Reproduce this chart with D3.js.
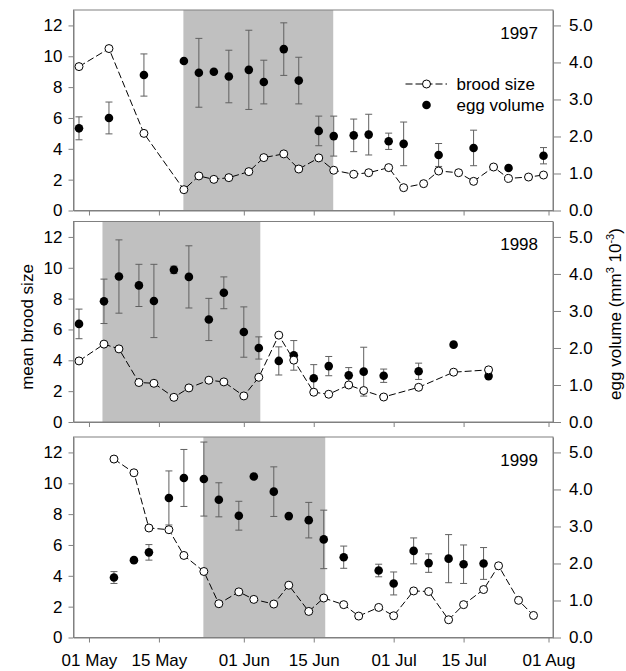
<!DOCTYPE html>
<html>
<head>
<meta charset="utf-8">
<script src="https://cdn.jsdelivr.net/npm/d3@7"></script>
<style>
  body { margin: 0; background: #fff; }
  svg text { font-family: "Liberation Sans", Arial, sans-serif; fill: #000; }
</style>
</head>
<body>
<div id="chart"></div>
<script>
// brood size and egg volume over the season, 1997-1999
// days are counted from 01 May

var years = [1997, 1998, 1999];

var tickDays = [0, 14, 31, 45, 61, 75, 92];
var tickLabels = ["01 May", "15 May", "01 Jun", "15 Jun", "01 Jul", "15 Jul", "01 Aug"];

var broodDays97 = [-2, 4, 11, 19, 22, 25, 28, 32, 35, 39, 42, 46, 49, 53, 56, 60, 63, 67, 70, 74, 77, 81, 84, 88, 91];
var brood97 = [9.33, 10.5, 5.0, 1.35, 2.24, 2.02, 2.13, 2.52, 3.43, 3.67, 2.69, 3.41, 2.61, 2.35, 2.45, 2.78, 1.48, 1.74, 2.56, 2.45, 1.89, 2.82, 2.08, 2.17, 2.30];
var eggDays97 = [-2, 4, 11, 19, 22, 25, 28, 32, 35, 39, 42, 46, 49, 53, 56, 60, 63, 70, 77, 84, 91];
var egg97 = [2.22, 2.50, 3.66, 4.04, 3.72, 3.75, 3.62, 3.80, 3.47, 4.36, 3.51, 2.15, 2.01, 2.03, 2.05, 1.87, 1.80, 1.50, 1.69, 1.15, 1.48];
var eggErr97 = [0.31, 0.43, 0.57, 0, 0.93, 0, 0.71, 1.07, 0.59, 0.71, 0.63, 0.40, 0.54, 0.44, 0.55, 0.22, 0.59, 0.31, 0.48, 0.05, 0.22];
var shade97 = [18.9, 48.9];

var broodDays98 = [-2, 3, 6, 10, 13, 17, 20, 24, 27, 31, 34, 38, 41, 45, 48, 52, 55, 59, 66, 73, 80];
var brood98 = [3.96, 5.05, 4.74, 2.56, 2.51, 1.60, 2.21, 2.71, 2.60, 1.69, 2.90, 5.63, 4.01, 1.93, 1.80, 2.40, 2.04, 1.62, 2.25, 3.23, 3.38];
var eggDays98 = broodDays98;
var egg98 = [2.65, 3.26, 3.93, 3.69, 3.27, 4.11, 3.92, 2.77, 3.49, 2.43, 2.00, 1.65, 1.80, 1.18, 1.51, 1.26, 1.36, 1.25, 1.37, 2.09, 1.24];
var eggErr98 = [0.40, 0.60, 0.99, 0.57, 0.99, 0.10, 0.84, 0.57, 0.43, 0.68, 0.30, 0.38, 0.40, 0.37, 0.26, 0.21, 0.66, 0.18, 0.22, 0, 0.05];
var shade98 = [2.7, 34.3];

var broodDays99 = [5, 9, 12, 16, 19, 23, 26, 30, 33, 37, 40, 44, 47, 51, 54, 58, 61, 65, 68, 72, 75, 79, 82, 86, 89];
var brood99 = [11.57, 10.68, 7.10, 6.99, 5.32, 4.28, 2.19, 2.96, 2.47, 2.17, 3.39, 1.69, 2.56, 2.13, 1.39, 1.95, 1.41, 3.02, 2.98, 1.15, 2.13, 3.11, 4.65, 2.41, 1.43];
var eggDays99 = [5, 9, 12, 16, 19, 23, 26, 30, 33, 37, 40, 44, 47, 51, 58, 61, 65, 68, 72, 75, 79];
var egg99 = [1.62, 2.09, 2.30, 3.77, 4.31, 4.28, 3.72, 3.29, 4.35, 3.94, 3.28, 3.17, 2.65, 2.17, 1.81, 1.46, 2.34, 2.01, 2.13, 1.98, 2.0];
var eggErr99 = [0.16, 0, 0.21, 0.73, 0.77, 1.0, 0.46, 0.39, 0, 0.67, 0, 0.48, 0.79, 0.30, 0.17, 0.31, 0.35, 0.25, 0.65, 0.52, 0.43];
var shade99 = [22.9, 47.3];

var panels = [
	{ year: years[0], broodDays: broodDays97, brood: brood97, eggDays: eggDays97, egg: egg97, err: eggErr97, shade: shade97 },
	{ year: years[1], broodDays: broodDays98, brood: brood98, eggDays: eggDays98, egg: egg98, err: eggErr98, shade: shade98 },
	{ year: years[2], broodDays: broodDays99, brood: brood99, eggDays: eggDays99, egg: egg99, err: eggErr99, shade: shade99 }
];

var width = 626;
var height = 671;
var left = 73.5, right = 553;
var tops = [10, 221.5, 437];
var ph = 200.5;
var fs = 17;

var svg = d3.select("#chart")
	.append("svg")
		.attr("width", width)
		.attr("height", height);

var x = d3.scaleLinear().domain([-3.1, 92.9]).range([left, right]);

panels.forEach(function(p, i) {
	var top = tops[i];
	var y = d3.scaleLinear().domain([0, 13]).range([top + ph, top]);
	var y2 = d3.scaleLinear().domain([0, 13 * 5 / 12]).range([top + ph, top]);
	var g = svg.append("g");

	// shaded period
	g.append("rect")
		.attr("x", x(p.shade[0]))
		.attr("y", top)
		.attr("width", x(p.shade[1]) - x(p.shade[0]))
		.attr("height", ph)
		.attr("fill", "#c0c0c0");

	// frame
	g.append("rect")
		.attr("x", left)
		.attr("y", top)
		.attr("width", right - left)
		.attr("height", ph)
		.attr("fill", "none")
		.attr("stroke", "#808080");

	var xAxis = d3.axisBottom(x)
		.tickValues(tickDays)
		.tickSize(5)
		.tickSizeOuter(0)
		.tickPadding(11)
		.tickFormat(function(d, k) { return i == 2 ? tickLabels[k] : ""; });

	var yAxis = d3.axisLeft(y).tickValues([0, 2, 4, 6, 8, 10, 12]).tickSize(5).tickSizeOuter(0).tickPadding(6);
	var y2Axis = d3.axisRight(y2).tickValues([0, 1, 2, 3, 4, 5]).tickFormat(d3.format(".1f")).tickSize(8).tickSizeOuter(0).tickPadding(8);

	var ax = [
		g.append("g").attr("transform", "translate(0," + (top + ph) + ")").call(xAxis),
		g.append("g").attr("transform", "translate(" + left + ",0)").call(yAxis),
		g.append("g").attr("transform", "translate(" + right + ",0)").call(y2Axis)
	];
	ax.forEach(function(a) {
		a.selectAll("path, line").attr("stroke", "#808080");
		a.selectAll("text").attr("font-size", fs).attr("font-family", null).attr("fill", "#000");
	});

	// error bars
	var eggData = p.eggDays.map(function(d, k) { return { day: d, v: p.egg[k], e: p.err[k] }; });
	var bars = g.append("g").attr("stroke", "#606060").attr("fill", "none")
		.selectAll("g").data(eggData.filter(function(d) { return d.e > 0; }))
		.enter().append("g");
	bars.append("line")
		.attr("x1", function(d) { return x(d.day); })
		.attr("x2", function(d) { return x(d.day); })
		.attr("y1", function(d) { return y2(d.v - d.e); })
		.attr("y2", function(d) { return y2(d.v + d.e); });
	bars.append("line")
		.attr("x1", function(d) { return x(d.day) - 3.5; })
		.attr("x2", function(d) { return x(d.day) + 3.5; })
		.attr("y1", function(d) { return y2(d.v + d.e); })
		.attr("y2", function(d) { return y2(d.v + d.e); });
	bars.append("line")
		.attr("x1", function(d) { return x(d.day) - 3.5; })
		.attr("x2", function(d) { return x(d.day) + 3.5; })
		.attr("y1", function(d) { return y2(d.v - d.e); })
		.attr("y2", function(d) { return y2(d.v - d.e); });

	g.append("g").selectAll("circle")
		.data(eggData)
		.enter().append("circle")
			.attr("cx", function(d) { return x(d.day); })
			.attr("cy", function(d) { return y2(d.v); })
			.attr("r", 4.3)
			.attr("fill", "#000");

	// brood size
	var broodData = p.broodDays.map(function(d, k) { return { day: d, v: p.brood[k] }; });
	var line = d3.line()
		.x(function(d) { return x(d.day); })
		.y(function(d) { return y(d.v); });

	g.append("path")
		.datum(broodData)
		.attr("d", line)
		.attr("fill", "none")
		.attr("stroke", "#000")
		.attr("stroke-dasharray", "7,3");

	g.append("g").selectAll("circle")
		.data(broodData)
		.enter().append("circle")
			.attr("cx", function(d) { return x(d.day); })
			.attr("cy", function(d) { return y(d.v); })
			.attr("r", 4)
			.attr("fill", "#fff")
			.attr("stroke", "#000");

	g.append("text")
		.attr("x", 538)
		.attr("y", top + 28.5)
		.attr("text-anchor", "end")
		.attr("font-size", fs)
		.text(p.year);
});

// legend
var lg = svg.append("g");
lg.append("line")
	.attr("x1", 405.5).attr("x2", 447)
	.attr("y1", 84).attr("y2", 84)
	.attr("stroke", "#000")
	.attr("stroke-dasharray", "7,3");
lg.append("circle").attr("cx", 426.5).attr("cy", 84).attr("r", 4).attr("fill", "#fff").attr("stroke", "#000");
lg.append("text").attr("x", 456.5).attr("y", 89.5).attr("font-size", fs).text("brood size");
lg.append("circle").attr("cx", 426.5).attr("cy", 105).attr("r", 4.3).attr("fill", "#000");
lg.append("text").attr("x", 456.5).attr("y", 111).attr("font-size", fs).text("egg volume");

// axis titles
svg.append("text")
	.attr("transform", "translate(33,327) rotate(-90)")
	.attr("text-anchor", "middle")
	.attr("font-size", fs)
	.text("mean brood size");

var rt = svg.append("text")
	.attr("transform", "translate(621,314) rotate(-90)")
	.attr("text-anchor", "middle")
	.attr("font-size", fs);
rt.append("tspan").text("egg volume (mm");
rt.append("tspan").attr("font-size", 11).attr("dy", -7).text("3");
rt.append("tspan").attr("dy", 7).text(" 10");
rt.append("tspan").attr("font-size", 11).attr("dy", -7).text("-3");
rt.append("tspan").attr("dy", 7).text(")");
</script>
</body>
</html>
